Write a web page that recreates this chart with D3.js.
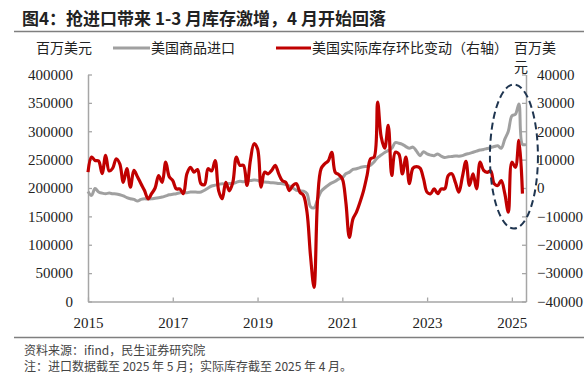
<!DOCTYPE html>
<html>
<head>
<meta charset="utf-8">
<script src="https://cdn.jsdelivr.net/npm/d3@7"></script>
<style>
  body { margin: 0; background: #fff; }
  svg { display: block; }
</style>
</head>
<body>
<div id="chart"></div>
<script>
// x categories: monthly from Jan 2015; labelled ticks every two years
var yearLabels = ["2015", "2017", "2019", "2021", "2023", "2025"];
var yearTickMonths = [0, 24, 48, 72, 96, 120];
var leftTicks = [0, 50000, 100000, 150000, 200000, 250000, 300000, 350000, 400000];
var rightTicks = [-40000, -30000, -20000, -10000, 0, 10000, 20000, 30000, 40000];

// 美国商品进口 (百万美元), Jan 2015 - May 2025
var imports = [
  194000, 187000, 199000, 193000, 191000, 190000, 191000, 190000, 189500, 188000, 186000, 183000,
  181000, 180000, 177000, 180000, 181000, 180500, 181000, 182000, 183000, 184000, 186000, 188000,
  189000, 190000, 191500, 192000, 191500, 193000, 193000, 192500, 193000, 196000, 200000, 203500,
  205000, 206500, 207600, 207000, 208000, 207600, 210000, 212000, 211000, 213600, 213000, 214000,
  213500, 211000, 210600, 210000, 209400, 209000, 208000, 207600, 206000, 203500, 200000, 196000,
  195000, 194500, 190000, 167000, 165000, 180000, 194000, 200000, 205000, 209000, 212000, 216000,
  218000, 225000, 228000, 233000, 234000, 236000, 237500, 238000, 240000, 246000, 253600, 258000,
  262500, 266000, 270000, 280000, 279000, 277000, 273000, 270000, 272000, 265000, 257000, 264000,
  260000, 258000, 257000, 260000, 256000, 253600, 255000, 255500, 256500, 256000, 257000, 259500,
  261000, 263000, 265000, 267000, 268000, 269600, 271000, 273000, 274300, 270000, 286000, 300000,
  327000, 330000, 348000, 277000, 277000
];

// 美国实际库存环比变动 (百万美元, 右轴), Jan 2015 - Apr 2025
var inventory = [
  5600, 10900, 9700, 9500, 5100, 11500, 6000, 7000, 10300, 8500, 2000, 6800,
  300, 6200, 4000, 1500, -900, -3800, -2000, 0, 4400, 2000, 9100, 4000,
  2600, -300, -300, -2000, 5000, 7300, 5600, 6500, 1500, 1200, 6800, 6000,
  9700, -1000, -3800, 2000, -1000, 2000, 10900, 8000, 8000, 900, 10000, 15600,
  13800, 300, 5600, 5000, 6200, 8000, 5000, 2600, 2000, -900, 900, 1500,
  -1500, -2600, -8500, -24000, -35000, -4000, 6800, 8500, 9500, 12600, 5500, 4700,
  3200, -5000, -17400, -10900, -8500, -5000, -1000, 4400, 10300, 10900, 30300, 18000,
  14000, 22100, 4400, 12600, 12000, 5000, 10900, 1500, 7000, 7500, 7000, 3200,
  -1500, -2000, -300, -2000, -300, -300, 4400, 5000, 2000, -1500, 4000, 9400,
  900, 5000, -300, 9100, 6200, 5500, 6000, 1500, 900, 2600, -2000, -8500,
  9100, 7300, 16800, -2000
];

var width = 584;
var height = 376;
var plotLeft = 88, plotRight = 526, plotTop = 74.5, plotBottom = 301.5;
var axisColor = "#a6a6a6";
var cjk = "'Noto Sans CJK SC', 'Noto Sans', sans-serif";
var num = "'Liberation Serif', 'DejaVu Serif', serif";

var svg = d3.select("#chart")
  .append("svg")
  .attr("width", width)
  .attr("height", height);

// scales
var x = d3.scaleLinear().domain([0, imports.length - 1]).range([plotLeft, plotRight]);
var yLeft = d3.scaleLinear().domain([0, 400000]).range([plotBottom, plotTop]);
var yRight = d3.scaleLinear().domain([-40000, 40000]).range([plotBottom, plotTop]);

// title + rules
svg.append("text")
  .attr("x", 22).attr("y", 25)
  .style("font-family", cjk).style("font-size", "17px").style("font-weight", "bold")
  .style("fill", "#222")
  .text("图4：抢进口带来 1-3 月库存激增，4 月开始回落");

svg.append("line")
  .attr("x1", 14).attr("x2", 584).attr("y1", 31.5).attr("y2", 31.5)
  .attr("stroke", "#7f7f7f").attr("stroke-width", 1.5);

svg.append("line")
  .attr("x1", 14).attr("x2", 584).attr("y1", 337.5).attr("y2", 337.5)
  .attr("stroke", "#7f7f7f").attr("stroke-width", 1.5);

// axes
function styleAxis(g) {
  g.select(".domain").attr("stroke", axisColor).attr("stroke-width", 1.5);
  g.selectAll(".tick line").attr("stroke", axisColor).attr("stroke-width", 1.3);
  g.selectAll(".tick text")
    .style("font-family", num).style("font-size", "15px").style("fill", "#222");
}

svg.append("g")
  .attr("transform", "translate(" + plotLeft + ",0)")
  .call(d3.axisLeft(yLeft).tickValues(leftTicks).tickFormat(d3.format("d"))
    .tickSizeInner(-4).tickSizeOuter(0).tickPadding(15))
  .call(styleAxis);

svg.append("g")
  .attr("transform", "translate(" + plotRight + ",0)")
  .call(d3.axisRight(yRight).tickValues(rightTicks).tickFormat(d3.format("d"))
    .tickSizeInner(-4).tickSizeOuter(0).tickPadding(11))
  .call(styleAxis);

svg.append("g")
  .attr("transform", "translate(0," + plotBottom + ")")
  .call(d3.axisBottom(x).tickValues(yearTickMonths)
    .tickFormat(function(d, i) { return yearLabels[i]; })
    .tickSizeInner(-4).tickSizeOuter(0).tickPadding(16))
  .call(styleAxis);

// lines
var importLine = d3.line()
  .x(function(d, i) { return x(i); })
  .y(function(d) { return yLeft(d); })
  .curve(d3.curveCatmullRom);

var inventoryLine = d3.line()
  .x(function(d, i) { return x(i); })
  .y(function(d) { return yRight(d); })
  .curve(d3.curveCatmullRom);

svg.append("path")
  .datum(imports)
  .attr("d", importLine)
  .attr("fill", "none").attr("stroke", "#a0a0a0").attr("stroke-width", 3)
  .attr("stroke-linejoin", "round");

svg.append("path")
  .datum(inventory)
  .attr("d", inventoryLine)
  .attr("fill", "none").attr("stroke", "#c00000").attr("stroke-width", 3.2)
  .attr("stroke-linejoin", "round");

// highlight ellipse
svg.append("ellipse")
  .attr("cx", x(122) - 5).attr("cy", 156.5)
  .attr("rx", 24).attr("ry", 72)
  .attr("fill", "none").attr("stroke", "#1f3550").attr("stroke-width", 2)
  .attr("stroke-dasharray", "7,4");

// legend row
var legendY = 48;
svg.append("text")
  .attr("x", 36).attr("y", legendY + 5)
  .style("font-family", cjk).style("font-size", "14px").style("fill", "#222")
  .text("百万美元");

var legendItems = [
  { label: "美国商品进口", color: "#a0a0a0", x1: 113, x2: 150 },
  { label: "美国实际库存环比变动（右轴）", color: "#c00000", x1: 276, x2: 311 }
];
legendItems.forEach(function(d) {
  svg.append("line")
    .attr("x1", d.x1).attr("x2", d.x2).attr("y1", legendY).attr("y2", legendY)
    .attr("stroke", d.color).attr("stroke-width", 3);
  svg.append("text")
    .attr("x", d.x2 + 1).attr("y", legendY + 5)
    .style("font-family", cjk).style("font-size", "14px").style("fill", "#222")
    .text(d.label);
});

svg.append("text")
  .attr("x", 514).attr("y", legendY + 5)
  .style("font-family", cjk).style("font-size", "14px").style("fill", "#222")
  .text("百万美");
svg.append("text")
  .attr("x", 514).attr("y", legendY + 24)
  .style("font-family", cjk).style("font-size", "14px").style("fill", "#222")
  .text("元");

// footer
svg.append("text")
  .attr("x", 24).attr("y", 355)
  .style("font-family", cjk).style("font-size", "12px").style("fill", "#444")
  .text("资料来源：ifind，民生证券研究院");
svg.append("text")
  .attr("x", 24).attr("y", 371)
  .style("font-family", cjk).style("font-size", "12px").style("fill", "#444")
  .text("注：进口数据截至 2025 年 5 月；实际库存截至 2025 年 4 月。");
</script>
</body>
</html>
